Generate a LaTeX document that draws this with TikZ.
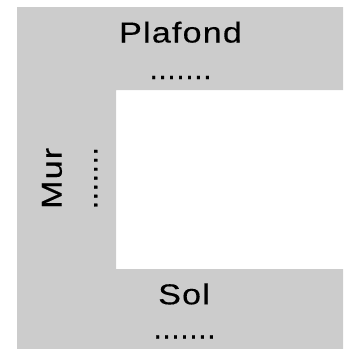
\documentclass[tikz,border=0pt]{standalone}
\usepackage{fontspec}
\newfontfamily\lblfont{Liberation Sans}[LetterSpace=3.6,FakeBold=0.3]
\newfontfamily\dotsfont{Liberation Sans}[LetterSpace=3.3,FakeBold=0.5]
\definecolor{wallgray}{HTML}{CCCCCC}
\newcommand{\wlbl}[1]{\scalebox{1.18}[1]{#1}}
\begin{document}
\begin{tikzpicture}[x=1pt,y=-1pt,
  lbl/.style={inner sep=0pt,anchor=base,font=\lblfont\fontsize{28.8}{30}\selectfont},
  dotl/.style={inner sep=0pt,anchor=base,font=\dotsfont\fontsize{28.8}{30}\selectfont}]
\useasboundingbox (0,0) rectangle (346,349);
\fill[wallgray] (17,7) -- (343,7) -- (343,90) -- (116,90) -- (116,269) -- (343,269) -- (343,349) -- (17,349) -- cycle;
\node[lbl] (plafond) at (180.5,42.5) {\wlbl{Plafond}};
\node[dotl] (plafonddots) at (180.5,79) {.......};
\node[lbl] (sol) at (184,304.3) {\wlbl{Sol}};
\node[dotl] (soldots) at (184.5,338.5) {.......};
\node[lbl,rotate=90] (mur) at (61.7,178.3) {\wlbl{Mur}};
\node[dotl,rotate=90] (murdots) at (97.3,178.2) {.......};
\end{tikzpicture}
\end{document}
